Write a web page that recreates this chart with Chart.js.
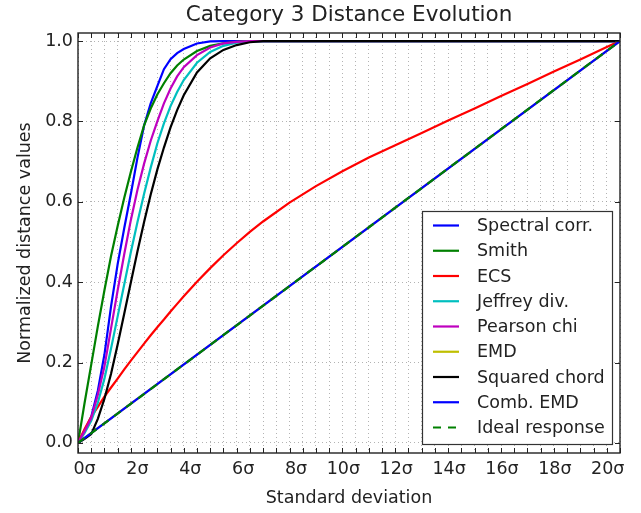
<!DOCTYPE html>
<html>
<head>
<meta charset="utf-8">
<script src="https://cdn.jsdelivr.net/npm/chart.js@4/dist/chart.umd.min.js"></script>
<style>
  html, body { margin: 0; padding: 0; background: #ffffff; }
  #wrap { width: 641px; height: 513px; position: relative; }
</style>
</head>
<body>
<div id="wrap"><canvas id="c"></canvas></div>
<script>
// ---- data ----
const sigma = [0,0.25,0.5,0.75,1,1.25,1.5,1.75,2,2.25,2.5,2.75,3,3.25,3.5,3.75,4,4.5,5,5.5,6,6.5,7,8,9,10,11,12,13,14,15,16,17,18,19,20,20.5];
const spectralCorr = [0,0.03,0.065,0.13,0.22,0.34,0.445,0.535,0.62,0.71,0.79,0.845,0.888,0.93,0.955,0.97,0.98,0.994,0.999,1,1,1,1,1,1,1,1,1,1,1,1,1,1,1,1,1,1];
const smith        = [0,0.1,0.195,0.29,0.38,0.465,0.54,0.61,0.675,0.735,0.79,0.832,0.867,0.895,0.92,0.939,0.954,0.975,0.988,0.994,0.998,1,1,1,1,1,1,1,1,1,1,1,1,1,1,1,1];
const ecs          = [0,0.035,0.065,0.09,0.115,0.138,0.16,0.183,0.205,0.226,0.247,0.268,0.288,0.307,0.327,0.346,0.365,0.401,0.435,0.467,0.497,0.525,0.551,0.598,0.639,0.676,0.71,0.741,0.771,0.802,0.832,0.863,0.893,0.924,0.954,0.985,1.0];
const jeffreyDiv   = [0,0.025,0.055,0.1,0.16,0.235,0.315,0.395,0.475,0.55,0.62,0.685,0.745,0.795,0.838,0.873,0.903,0.946,0.973,0.988,0.996,0.999,1,1,1,1,1,1,1,1,1,1,1,1,1,1,1];
const pearsonChi   = [0,0.03,0.062,0.12,0.19,0.285,0.38,0.47,0.555,0.63,0.695,0.752,0.8,0.845,0.882,0.912,0.935,0.965,0.984,0.994,0.998,1,1,1,1,1,1,1,1,1,1,1,1,1,1,1,1];
const squaredChord = [0,0.01,0.022,0.06,0.11,0.172,0.245,0.322,0.4,0.477,0.55,0.618,0.68,0.735,0.785,0.828,0.865,0.922,0.957,0.978,0.99,0.997,1,1,1,1,1,1,1,1,1,1,1,1,1,1,1];
const sigmaLine    = [0, 20.5];
const emd          = [0, 1];
const combEmd      = [0, 1];
const idealResp    = [0, 1];

const seriesNames = ['Spectral corr.','Smith','ECS','Jeffrey div.','Pearson chi','EMD','Squared chord','Comb. EMD','Ideal response'];
const xTickEvery = 2;
const yTickStep = 0.2;

const FONT = 'DejaVu Sans';
const TXT = '#222222';

function pts(xs, ys) { return xs.map((x, i) => ({ x: x, y: ys[i] })); }

const defs = [
  { x: sigma, y: spectralCorr, color: '#0000ff' },
  { x: sigma, y: smith,        color: '#008000' },
  { x: sigma, y: ecs,          color: '#ff0000' },
  { x: sigma, y: jeffreyDiv,   color: '#00bfbf' },
  { x: sigma, y: pearsonChi,   color: '#bf00bf' },
  { x: sigmaLine, y: emd,      color: '#bfbf00' },
  { x: sigma, y: squaredChord, color: '#000000' },
  { x: sigmaLine, y: combEmd,  color: '#0000ff' },
  { x: sigmaLine, y: idealResp, color: '#008000', dash: [8, 7] }
];

const datasets = defs.map((d, i) => ({
  label: seriesNames[i],
  data: pts(d.x, d.y),
  borderColor: d.color,
  backgroundColor: d.color,
  borderWidth: 2.2,
  borderDash: d.dash || [],
  pointRadius: 0,
  tension: 0,
  fill: false,
  order: defs.length - 1 - i
}));

const framePlugin = {
  id: 'frame',
  afterDatasetsDraw(chart) {
    const { ctx, chartArea: a, scales: { x, y } } = chart;
    ctx.save();
    ctx.strokeStyle = TXT;
    ctx.lineWidth = 1;
    ctx.beginPath();
    x.ticks.forEach(t => {
      const px = Math.round(x.getPixelForValue(t.value)) + 0.5;
      ctx.moveTo(px, a.bottom); ctx.lineTo(px, a.bottom - 5);
      ctx.moveTo(px, a.top); ctx.lineTo(px, a.top + 5);
    });
    y.ticks.forEach(t => {
      const py = Math.round(y.getPixelForValue(t.value)) + 0.5;
      ctx.moveTo(a.left, py); ctx.lineTo(a.left + 5, py);
      ctx.moveTo(a.right, py); ctx.lineTo(a.right - 5, py);
    });
    ctx.stroke();
    ctx.lineWidth = 1.4;
    ctx.strokeRect(a.left, a.top, a.right - a.left, a.bottom - a.top);
    ctx.restore();
  }
};

const legendPlugin = {
  id: 'boxLegend',
  afterDraw(chart) {
    const { ctx } = chart;
    const L = 422, T = 211, R = 612, B = 444;
    ctx.save();
    ctx.fillStyle = '#ffffff';
    ctx.fillRect(L, T, R - L, B - T);
    ctx.strokeStyle = '#333333';
    ctx.lineWidth = 1.2;
    ctx.strokeRect(L + 0.5, T + 0.5, R - L, B - T);
    ctx.font = '17.5px "' + FONT + '"';
    ctx.textBaseline = 'middle';
    ctx.textAlign = 'left';
    chart.data.datasets.forEach((ds, i) => {
      const yy = 225.5 + i * 25.25;
      ctx.strokeStyle = ds.borderColor;
      ctx.lineWidth = 2.2;
      ctx.setLineDash(ds.borderDash || []);
      ctx.beginPath();
      ctx.moveTo(433, yy); ctx.lineTo(459, yy);
      ctx.stroke();
      ctx.setLineDash([]);
      ctx.fillStyle = TXT;
      ctx.fillText(ds.label, 477, yy + 1);
    });
    ctx.restore();
  }
};

Chart.defaults.font.family = FONT;

new Chart(document.getElementById('c'), {
  type: 'line',
  data: { datasets: datasets },
  options: {
    responsive: true,
    maintainAspectRatio: false,
    animation: false,
    devicePixelRatio: 1,
    layout: { padding: { left: 0, right: 21, top: 0, bottom: 0 } },
    plugins: {
      legend: { display: false },
      tooltip: { enabled: false },
      title: {
        display: true,
        text: 'Category 3 Distance Evolution',
        fullSize: false,
        color: TXT,
        font: { family: FONT, size: 21.5, weight: 'normal' },
        padding: { top: 3, bottom: 4.2 }
      }
    },
    scales: {
      x: {
        type: 'linear',
        min: 0,
        max: 20.5,
        afterFit(s) { s.height = 60; },
        grid: { color: '#a0a0a0', lineWidth: 0.8, drawTicks: false },
        border: { display: false, dash: [1, 3] },
        ticks: {
          stepSize: 0.5,
          autoSkip: false,
          maxRotation: 0,
          includeBounds: false,
          padding: 5.5,
          labelOffset: 1,
          color: TXT,
          font: { family: FONT, size: 17.5 },
          callback(v) {
            if (Math.abs(v / xTickEvery - Math.round(v / xTickEvery)) > 1e-9) return '';
            const n = Math.round(v);
            return (n < 10 ? '  ' : '') + n + 'σ';
          }
        },
        title: {
          display: true,
          text: 'Standard deviation',
          color: TXT,
          font: { family: FONT, size: 17.5 },
          padding: { top: 0, bottom: 4.5 }
        }
      },
      y: {
        type: 'linear',
        min: -0.025,
        max: 1.02,
        afterFit(s) { s.width = 78; },
        grid: { color: '#a0a0a0', lineWidth: 0.8, drawTicks: false },
        border: { display: false, dash: [1, 3] },
        ticks: {
          stepSize: yTickStep,
          includeBounds: false,
          padding: 5,
          color: TXT,
          font: { family: FONT, size: 17.5 },
          callback(v) { return Number(v).toFixed(1); }
        },
        title: {
          display: true,
          text: 'Normalized distance values',
          color: TXT,
          font: { family: FONT, size: 17.5 },
          padding: { top: 14.5, bottom: 0 }
        }
      }
    }
  },
  plugins: [framePlugin, legendPlugin]
});
</script>
</body>
</html>
